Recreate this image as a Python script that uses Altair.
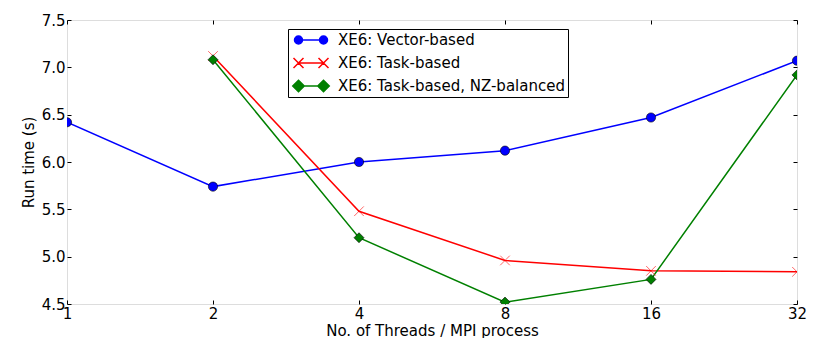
import altair as alt
import pandas as pd

threads = [1, 2, 4, 8, 16, 32]
series_names = ["XE6: Vector-based", "XE6: Task-based", "XE6: Task-based, NZ-balanced"]
vector_based = [6.42, 5.74, 6.00, 6.12, 6.47, 7.07]
task_based = [None, 7.12, 5.48, 4.96, 4.85, 4.84]
task_nz = [None, 7.08, 5.20, 4.52, 4.76, 6.92]
colors = ["#0000ff", "#ff0000", "#008000"]
edge_colors = ["#000000", "#ff0000", "#000000"]
x_ticks = [1, 2, 4, 8, 16, 32]
y_ticks = [4.5, 5.0, 5.5, 6.0, 6.5, 7.0, 7.5]

rows = []
for name, vals in zip(series_names, [vector_based, task_based, task_nz]):
    for t, v in zip(threads, vals):
        if v is not None:
            rows.append({"threads": t, "time": v, "series": name})
df = pd.DataFrame(rows)

FONT = "DejaVu Sans"
FS = 15
W, H = 730, 284

xscale = alt.Scale(type="log", base=2, domain=[1, 32], nice=False)
yscale = alt.Scale(domain=[4.5, 7.5], nice=False, zero=False)

x_bottom = alt.X("threads:Q", scale=xscale,
                 axis=alt.Axis(values=x_ticks, format="d", title="No. of Threads / MPI process",
                               orient="bottom", offset=-4, tickSize=4, domain=False, grid=False,
                               labelPadding=2, titlePadding=2, tickColor="black",
                               labelFontSize=FS, titleFontSize=FS, labelFont=FONT, titleFont=FONT,
                               labelColor="black", titleColor="black", titleFontWeight="normal",
                               labelFlush=False, labelOverlap=False))
y_left = alt.Y("time:Q", scale=yscale,
               axis=alt.Axis(values=y_ticks, format=".1f", title="Run time (s)", orient="left",
                             offset=-4, tickSize=4, domain=False, grid=False, labelPadding=2,
                             titlePadding=5, tickColor="black", labelFontSize=FS, titleFontSize=FS,
                             labelFont=FONT, titleFont=FONT, labelColor="black", titleColor="black",
                             titleFontWeight="normal", labelFlush=False, labelOverlap=False))

color_scale = alt.Scale(domain=series_names, range=colors)

lines = alt.Chart(df).mark_line(strokeWidth=1.5, clip=True).encode(
    x=x_bottom, y=y_left,
    color=alt.Color("series:N", scale=color_scale, legend=None),
    detail="series:N",
)

xpath = "M-1,-1L1,1M-1,1L1,-1"
points = alt.Chart(df).mark_point(filled=True, opacity=1, strokeWidth=0.6, clip=True).encode(
    x=alt.X("threads:Q", scale=xscale, axis=None),
    y=alt.Y("time:Q", scale=yscale, axis=None),
    shape=alt.Shape("series:N", scale=alt.Scale(domain=series_names, range=["circle", xpath, "diamond"]), legend=None),
    fill=alt.Fill("series:N", scale=alt.Scale(domain=series_names, range=colors), legend=None),
    stroke=alt.Stroke("series:N", scale=alt.Scale(domain=series_names, range=edge_colors), legend=None),
    size=alt.Size("series:N", scale=alt.Scale(domain=series_names, range=[85, 100, 160]), legend=None),
)

leg_circle = ("M-0.8,0A0.8,0.8 0 1,0 0.8,0A0.8,0.8 0 1,0 -0.8,0Z M0,0L5,0 "
              "M4.2,0A0.8,0.8 0 1,0 5.8,0A0.8,0.8 0 1,0 4.2,0Z")
leg_x = "M-1,-1L1,1M-1,1L1,-1 M0,0L5,0 M4,-1L6,1M4,1L6,-1"
leg_diamond = "M0,-1.15L1.15,0L0,1.15L-1.15,0Z M0,0L5,0 M5,-1.15L6.15,0L5,1.15L3.85,0Z"

legend_layer = alt.Chart(df).transform_filter("datum.time < 0").mark_point(
    filled=True, opacity=1, strokeWidth=1.5).encode(
    x=alt.X("threads:Q", scale=xscale, axis=None),
    y=alt.Y("time:Q", scale=yscale, axis=None),
    shape=alt.Shape("series:N", scale=alt.Scale(domain=series_names, range=[leg_circle, leg_x, leg_diamond]),
                    legend=alt.Legend(title=None, orient="none", legendX=221, legendY=9,
                                      strokeColor="black", fillColor="white", padding=3,
                                      labelFontSize=FS, labelFont=FONT, labelColor="black",
                                      labelOffset=32, symbolSize=100, symbolStrokeWidth=1.5,
                                      rowPadding=7, clipHeight=16, labelLimit=400, cornerRadius=0)),
    fill=alt.Fill("series:N", scale=alt.Scale(domain=series_names, range=colors), legend=None),
    stroke=alt.Stroke("series:N", scale=alt.Scale(domain=series_names, range=colors), legend=None),
)

top_axis = alt.Chart(df).mark_point(opacity=0).encode(
    x=alt.X("threads:Q", scale=xscale,
            axis=alt.Axis(values=x_ticks, orient="top", offset=-4, tickSize=4, domain=False,
                          labels=False, title=None, grid=False, tickColor="black")),
    y=alt.Y("time:Q", scale=yscale,
            axis=alt.Axis(values=y_ticks, orient="right", offset=-4, tickSize=4, domain=False,
                          labels=False, title=None, grid=False, tickColor="black")),
)

chart = alt.layer(lines, points, legend_layer, top_axis).resolve_scale(
    shape="independent", fill="independent", stroke="independent", size="independent"
).resolve_axis(x="independent", y="independent").properties(
    width=W, height=H,
    autosize=alt.AutoSizeParams(type="none"),
    padding={"left": 59, "top": 12, "right": 17, "bottom": 34},
).configure_view(stroke="black", strokeWidth=1.2).configure(background="white")

chart.save("out.html", embed_options={"renderer": "svg", "actions": False})
